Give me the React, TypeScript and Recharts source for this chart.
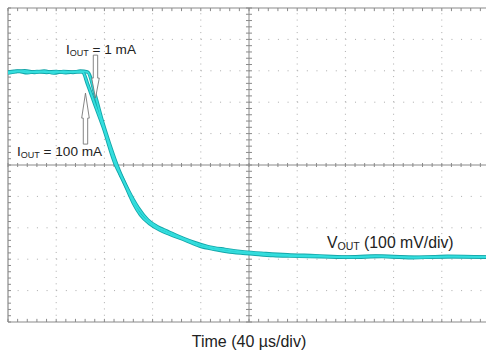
import React from 'react';
import { LineChart, Line, XAxis, YAxis, ReferenceLine, ReferenceDot } from 'recharts';

// time in µs (40 µs/div), voltage in mV relative to screen centre (100 mV/div)
const timesA = [0, 8, 16, 24, 32, 40, 48, 56, 62, 66, 72, 79, 89, 93, 97, 101, 104, 110, 118, 126, 134, 147, 159, 172, 184, 203, 220, 234, 260, 284, 310, 340, 370, 400];
const valuesA = [296, 299, 294, 298, 295, 298, 294, 297, 296, 258, 194, 121, 3, -29, -61, -96, -121, -159, -188, -207, -220, -239, -258, -269, -277, -283, -288, -290, -292, -294, -291, -294, -292, -293];

const timesB = [0, 6, 14, 22, 30, 38, 46, 54, 60, 66, 73, 78, 84, 92, 100, 108, 116, 124, 132, 142, 154, 166, 180, 196, 214, 232, 255, 280, 305, 335, 365, 400];
const valuesB = [293, 297, 300, 295, 299, 293, 298, 295, 299, 296, 213, 143, 70, -16, -82, -136, -175, -197, -211, -228, -246, -260, -269, -277, -282, -286, -289, -293, -290, -295, -291, -294];

const majorT = [40, 80, 120, 160, 240, 280, 320, 360];
const majorV = [-400, -300, -200, -100, 100, 200, 300, 400];
const minorT = Array.from({ length: 51 }, (_, i) => i * 8);
const minorV = Array.from({ length: 51 }, (_, i) => -500 + i * 20);

const seriesA = timesA.map((t, i) => ({ t, v: valuesA[i] }));
const seriesB = timesB.map((t, i) => ({ t, v: valuesB[i] }));

const FONT = 'Liberation Sans, Arial, Helvetica, sans-serif';
const GRID = '#ababab';
const AXIS = '#8a8a8a';
const OUTER = '#14a6a9';
const INNER = '#34dede';

const Sub = ({ x, y, main, sub, rest, size, subSize, anchor = 'start' }: any) => (
  <text x={x} y={y} fontFamily={FONT} fontSize={size} fill="#222" textAnchor={anchor}>
    <tspan>{main}</tspan>
    <tspan fontSize={subSize} dy={2}>{sub}</tspan>
    <tspan dy={-2}>{rest}</tspan>
  </text>
);

const DownArrow = (p: any) => {
  const x = p.cx, y = p.cy;
  const pts = [[-2.2, -43], [2.2, -43], [2.2, -20], [3.8, -20], [0, 0], [-3.8, -20], [-2.2, -20]]
    .map(([dx, dy]) => `${x + dx},${y + dy}`).join(' ');
  return <polygon points={pts} fill="#fff" stroke="#777" strokeWidth={0.9} />;
};
const UpArrow = (p: any) => {
  const x = p.cx, y = p.cy;
  const pts = [[0, 0], [3.8, 25], [2.2, 25], [2.2, 51], [-2.2, 51], [-2.2, 25], [-3.8, 25]]
    .map(([dx, dy]) => `${x + dx},${y + dy}`).join(' ');
  return <polygon points={pts} fill="#fff" stroke="#777" strokeWidth={0.9} />;
};

export default function App() {
  return (
    <div style={{ position: 'absolute', left: 0, top: 0, width: 486, height: 352, overflow: 'hidden', background: '#fff' }}>
      <LineChart width={494} height={352} margin={{ top: 8, right: 4, bottom: 30, left: 8 }}>
        <XAxis type="number" dataKey="t" domain={[0, 400]} hide allowDataOverflow />
        <YAxis type="number" dataKey="v" domain={[-500, 500]} hide allowDataOverflow />

        {majorV.map((v) => (
          <ReferenceLine key={'gv' + v} y={v} stroke={GRID} strokeWidth={1} strokeDasharray="1 8.64" />
        ))}
        {majorT.map((t) => (
          <ReferenceLine key={'gt' + t} x={t} stroke={GRID} strokeWidth={1} strokeDasharray="1 5.28" />
        ))}

        <ReferenceLine y={0} stroke={AXIS} strokeWidth={1} />
        <ReferenceLine x={200} stroke={AXIS} strokeWidth={1} />
        <ReferenceLine y={500} stroke={AXIS} strokeWidth={1.2} />
        <ReferenceLine y={-500} stroke={AXIS} strokeWidth={1.2} />
        <ReferenceLine x={0} stroke={AXIS} strokeWidth={1.2} />
        <ReferenceLine x={400} stroke={AXIS} strokeWidth={1.2} />

        {minorT.map((t) => (
          <ReferenceLine key={'ct' + t} segment={[{ x: t, y: -6.4 }, { x: t, y: 6.4 }]} stroke={AXIS} strokeWidth={1} />
        ))}
        {minorV.map((v) => (
          <ReferenceLine key={'cv' + v} segment={[{ x: 197.5, y: v }, { x: 202.5, y: v }]} stroke={AXIS} strokeWidth={1} />
        ))}
        {minorV.map((v) => (
          <ReferenceLine key={'lv' + v} segment={[{ x: 0, y: v }, { x: 2.5, y: v }]} stroke={AXIS} strokeWidth={1} />
        ))}
        {minorT.map((t) => (
          <ReferenceLine key={'tt' + t} segment={[{ x: t, y: 500 }, { x: t, y: 490 }]} stroke={AXIS} strokeWidth={1} />
        ))}
        {minorT.map((t) => (
          <ReferenceLine key={'bt' + t} segment={[{ x: t, y: -500 }, { x: t, y: -490 }]} stroke={AXIS} strokeWidth={1} />
        ))}

        <Line data={seriesA} dataKey="v" type="monotone" stroke={OUTER} strokeWidth={3.6} dot={false} isAnimationActive={false} />
        <Line data={seriesB} dataKey="v" type="monotone" stroke={OUTER} strokeWidth={3.6} dot={false} isAnimationActive={false} />
        <Line data={seriesA} dataKey="v" type="monotone" stroke={INNER} strokeWidth={1.8} dot={false} isAnimationActive={false} />
        <Line data={seriesB} dataKey="v" type="monotone" stroke={INNER} strokeWidth={1.8} dot={false} isAnimationActive={false} />

        <ReferenceDot x={72.6} y={213} r={0} ifOverflow="visible" shape={DownArrow} />
        <ReferenceDot x={64.3} y={229} r={0} ifOverflow="visible" shape={UpArrow} />

        <ReferenceDot x={48.1} y={354} r={0} ifOverflow="visible"
          shape={(p: any) => <Sub x={p.cx} y={p.cy} main="I" sub="OUT" rest=" = 1 mA" size={13.6} subSize={9} />} />
        <ReferenceDot x={7.5} y={29} r={0} ifOverflow="visible"
          shape={(p: any) => <Sub x={p.cx} y={p.cy} main="I" sub="OUT" rest=" = 100 mA" size={13.6} subSize={9} />} />
        <ReferenceDot x={264.7} y={-264} r={0} ifOverflow="visible"
          shape={(p: any) => <Sub x={p.cx} y={p.cy} main="V" sub="OUT" rest=" (100 mV/div)" size={15.8} subSize={10.5} />} />
        <ReferenceDot x={200} y={-500} r={0} ifOverflow="visible"
          shape={(p: any) => (
            <text x={p.cx} y={p.cy + 25} textAnchor="middle" fontFamily={FONT} fontSize={16} fill="#222">Time (40 µs/div)</text>
          )} />
      </LineChart>
    </div>
  );
}
